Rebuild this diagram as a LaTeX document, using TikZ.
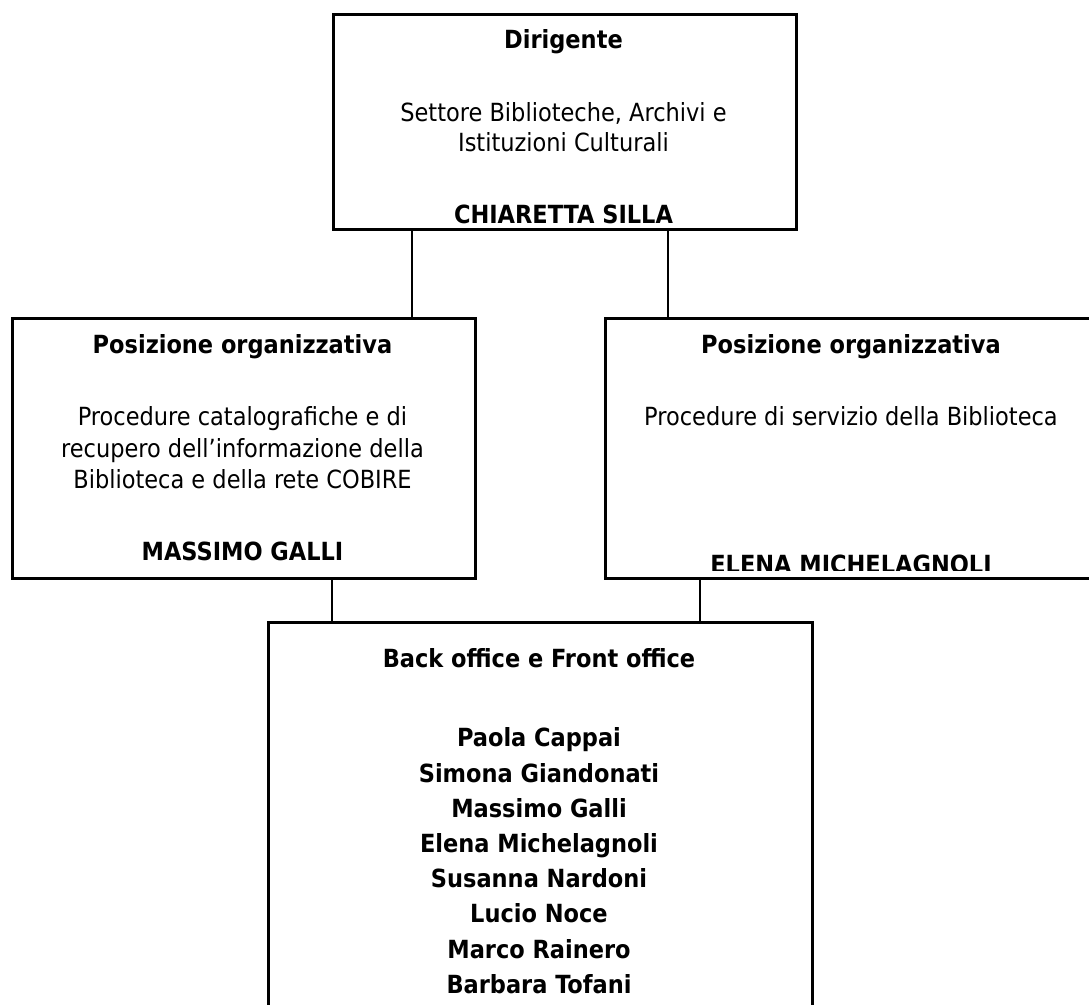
\documentclass[tikz,border=0pt]{standalone}
\usepackage{fontspec}
\setmainfont{DejaVu Sans Condensed}
\usetikzlibrary{positioning}

\begin{document}
\begin{tikzpicture}[x=0.5pt,y=-0.5pt,
    box/.style={draw,line width=1.5pt,inner sep=0pt,anchor=north west},
    link/.style={line width=1pt},
    txt/.style={anchor=base,inner sep=0pt,font=\fontsize{12.5}{15.5}\selectfont},
    head/.style={txt,font=\fontsize{12.5}{15.5}\selectfont\bfseries}]
  \useasboundingbox (0,0) rectangle (1089,1005);
  \clip (0,0) rectangle (1089,1005);
  % boxes
  \node[box,minimum width=231.5pt,minimum height=107.5pt] (dir) at (332,13) {};
  \node[box,minimum width=231.5pt,minimum height=130pt] (po1) at (11,317) {};
  \node[box,minimum width=247pt,minimum height=130pt] (po2) at (604,317) {};
  \node[box,minimum width=272pt,minimum height=220pt] (staff) at (267,621) {};
  % links
  \draw[link] (412,0 |- dir.south) -- (412,0 |- po1.north);
  \draw[link] (668,0 |- dir.south) -- (668,0 |- po2.north);
  \draw[link] (332,0 |- po1.south) -- (332,0 |- staff.north);
  \draw[link] (700,0 |- po2.south) -- (700,0 |- staff.north);
  % dirigente
  \node[head] (dirT) at (563.5,49) {Dirigente};
  \node[txt] (dirA) at (563.5,122) {Settore Biblioteche, Archivi e};
  \node[txt] (dirB) at (563.5,152) {Istituzioni Culturali};
  \begin{scope}
    \clip ([yshift=3.6pt]dir.south west) rectangle (dir.north east);
    \node[head] (dirN) at (563.5,224) {CHIARETTA SILLA};
  \end{scope}
  % posizioni organizzative
  \node[head] (po1T) at (242.5,354) {Posizione organizzativa};
  \node[txt] (po1A) at (242.5,426) {Procedure catalografiche e di};
  \node[txt] (po1B) at (242.5,458) {recupero dell’informazione della};
  \node[txt] (po1C) at (242.5,489) {Biblioteca e della rete COBIRE};
  \node[head] (po1N) at (242.5,561) {MASSIMO GALLI};
  \node[head] (po2T) at (851,354) {Posizione organizzativa};
  \node[txt] (po2A) at (851,426) {Procedure di servizio della Biblioteca};
  \begin{scope}
    \clip ([yshift=4.5pt]po2.south west) rectangle (po2.north east);
    \node[head] (po2N) at (851,574) {ELENA MICHELAGNOLI};
  \end{scope}
  % back office
  \node[head] (stT) at (539,668) {Back office e Front office};
  \foreach \nm [count=\i from 0] in {Paola Cappai,Simona Giandonati,Massimo Galli,
      Elena Michelagnoli,Susanna Nardoni,Lucio Noce,Marco Rainero,Barbara Tofani}
    \node[head] (st\i) at (539,{747+35.2*\i}) {\nm};
\end{tikzpicture}
\end{document}
